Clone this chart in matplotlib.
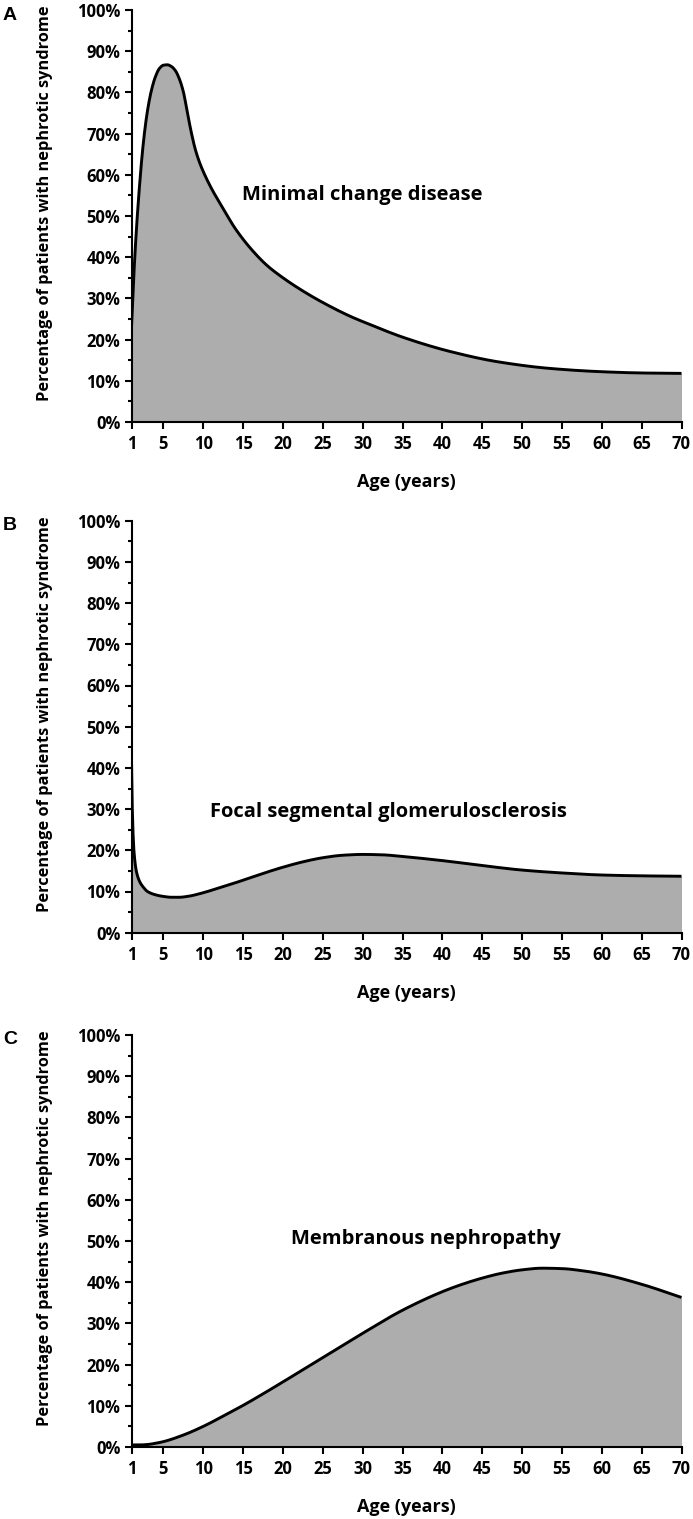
import numpy as np
import matplotlib
matplotlib.use("Agg")
import matplotlib.pyplot as plt
from matplotlib.ticker import MultipleLocator, FuncFormatter

plt.rcParams['font.family'] = ['Open Sans', 'DejaVu Sans']
plt.rcParams['font.weight'] = 'bold'

# values (age in years, percent of patients)
mcd_age = [1, 1.3, 1.8, 2.5, 3, 3.5, 4, 4.5, 5, 5.5, 6, 6.5, 7, 7.5, 8, 8.5, 9, 9.5, 10, 11,
           12.5, 14, 16, 18, 20, 22.5, 25, 28.5, 31, 35, 41, 47, 53.5, 60, 65, 70]
mcd_pct = [23, 36, 52, 68, 75.5, 80.5, 83.8, 85.8, 86.6, 86.7, 86.3, 85.3, 83.3, 80.2, 75.2, 70.3, 66.2, 63.2,
           60.8, 56.8, 51.8, 47, 42, 38, 35, 31.8, 29, 25.6, 23.6, 20.6, 17.1, 14.6, 13.0, 12.2, 11.9, 11.8]

fsgs_age = [1, 1.1, 1.3, 1.6, 2, 2.5, 3, 4, 5, 6, 7, 8, 10, 12, 14, 16, 18, 20,
            22.5, 25, 27.5, 30, 32.5, 35, 40, 45, 50, 55, 60, 65, 70]
fsgs_pct = [42, 30, 20, 15, 12.5, 11, 10, 9.2, 8.8, 8.6, 8.6, 8.8, 9.7, 10.9, 12.1, 13.4, 14.7, 15.9,
            17.2, 18.2, 18.8, 19.0, 18.9, 18.5, 17.5, 16.3, 15.2, 14.5, 14.0, 13.8, 13.7]

mn_age = [1, 2, 3, 4, 5, 7.5, 10, 12.5, 15, 17.5, 20, 25, 30, 35, 40, 42.5, 45, 47.5,
          50, 52.5, 55, 57.5, 60, 65, 70]
mn_pct = [0.5, 0.5, 0.6, 0.9, 1.3, 2.9, 5.0, 7.5, 10.1, 12.9, 15.8, 21.7, 27.6, 33.2, 37.7, 39.5, 41.0, 42.2,
          43.0, 43.4, 43.3, 42.8, 42.0, 39.5, 36.3]

x_ticks = [1, 5, 10, 15, 20, 25, 30, 35, 40, 45, 50, 55, 60, 65, 70]
panel_letters = ["A", "B", "C"]
disease_names = ["Minimal change disease", "Focal segmental glomerulosclerosis", "Membranous nephropathy"]
label_pos = [(29.9, 55), (33.2, 29.4), (37.9, 50.5)]


def pchip(x, y, xn):
    # monotone cubic, just to draw a smooth line through the read points
    x = np.asarray(x, float)
    y = np.asarray(y, float)
    h = np.diff(x)
    d = np.diff(y) / h
    m = np.zeros_like(y)
    m[0] = d[0]
    m[-1] = d[-1]
    for k in range(1, len(x) - 1):
        if d[k - 1] * d[k] <= 0:
            m[k] = 0
        else:
            w1 = 2 * h[k] + h[k - 1]
            w2 = h[k] + 2 * h[k - 1]
            m[k] = (w1 + w2) / (w1 / d[k - 1] + w2 / d[k])
    idx = np.clip(np.searchsorted(x, xn) - 1, 0, len(x) - 2)
    t = (xn - x[idx]) / h[idx]
    h00 = 2 * t**3 - 3 * t**2 + 1
    h10 = t**3 - 2 * t**2 + t
    h01 = -2 * t**3 + 3 * t**2
    h11 = t**3 - t**2
    return h00 * y[idx] + h10 * h[idx] * m[idx] + h01 * y[idx + 1] + h11 * h[idx] * m[idx + 1]


W, H = 693, 1519
fig = plt.figure(figsize=(W / 100, H / 100), dpi=100)

series = [(mcd_age, mcd_pct), (fsgs_age, fsgs_pct), (mn_age, mn_pct)]
zero_px = [422, 932.7, 1447]   # pixel row of the 0% line for each panel
ax_h = 412

for i, (ages, pcts) in enumerate(series):
    y0 = zero_px[i]
    ax = fig.add_axes([131.5 / W, (H - y0) / H, 550 / W, ax_h / H])
    xs = np.linspace(1, 70, 1400)
    ys = pchip(ages, pcts, xs)
    ax.fill_between(xs, 0, ys, color="#adadad", lw=0)
    ax.plot(xs, ys, color="black", lw=2.1, solid_capstyle="butt")

    ax.set_xlim(1, 70)
    ax.set_ylim(0, 100)
    ax.set_xticks(x_ticks)
    ax.set_xticklabels([str(t) for t in x_ticks])
    ax.yaxis.set_major_locator(MultipleLocator(10))
    ax.yaxis.set_minor_locator(MultipleLocator(5))
    ax.yaxis.set_major_formatter(FuncFormatter(lambda v, p: "%d%%" % v))
    for s in ["top", "right"]:
        ax.spines[s].set_visible(False)
    for s in ["left", "bottom"]:
        ax.spines[s].set_linewidth(1.5)
    ax.tick_params(axis="both", which="major", direction="out", length=5, width=1.5,
                   labelsize=12, pad=3)
    ax.tick_params(axis="y", which="minor", direction="out", length=3, width=1.5)
    ax.tick_params(axis="x", pad=4.5)
    ax.patch.set_alpha(0)

    ax.text(label_pos[i][0], label_pos[i][1], disease_names[i], ha="center", va="center",
            fontsize=14.5, fontweight="bold")

    top = y0 - ax_h
    fig.text(45 / W, 1 - (top + 193) / H, "Percentage of patients with nephrotic syndrome",
             rotation=90, ha="center", va="center", fontsize=11.8, fontweight="bold")
    fig.text(406.5 / W, 1 - (y0 + 60) / H, "Age (years)", ha="center", va="center",
             fontsize=13, fontweight="bold")
    fig.text(3 / W, 1 - (top + 5) / H, panel_letters[i], ha="left", va="center",
             fontsize=14, fontweight="bold", family="Liberation Sans")

fig.savefig("out.png", dpi=100)
